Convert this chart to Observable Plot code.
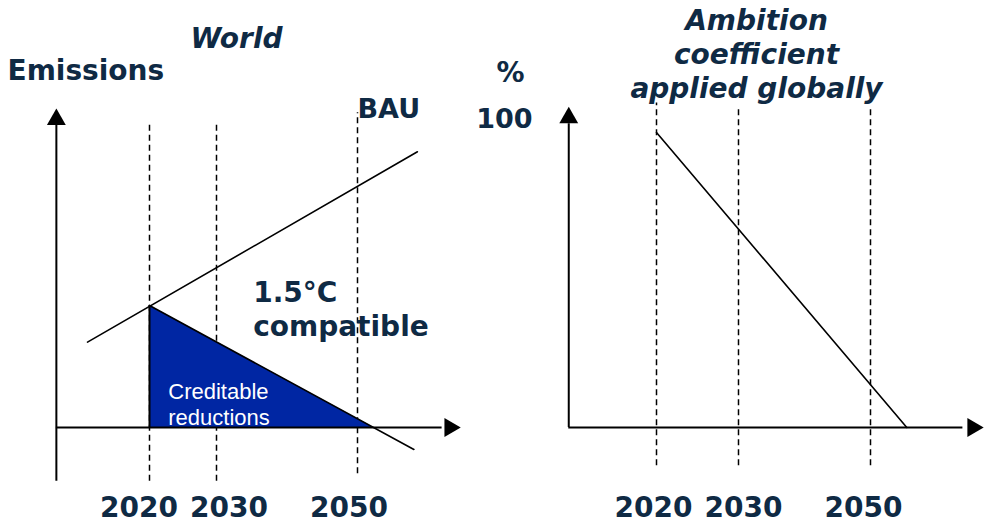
<!DOCTYPE html>
<html>
<head>
<meta charset="utf-8">
<script src="https://cdn.jsdelivr.net/npm/d3@7"></script>
<script src="https://cdn.jsdelivr.net/npm/@observablehq/plot@0.6"></script>
<style>
  html, body { margin: 0; padding: 0; background: #ffffff; }
  #wrap { display: flex; width: 986px; height: 524px; overflow: hidden; }
  #wrap svg { display: block; }
</style>
</head>
<body>
<div id="wrap"></div>
<script>
// ---------- data ----------
const tickYears = [2020, 2030, 2050];
const tickLabels = ["2020", "2030", "2050"];

// Left panel: World emissions (schematic units, 100 = 2020 level)
const bauYears = [2010.75, 2058.5];
const bauEmissions = [70, 226];
const pathYears = [2020, 2058];
const pathEmissions = [100, -18];
const creditYears = [2020, 2052.3];
const creditEmissions = [100, 0];
const leftGuideLow = [-44, -44, -38];
const leftGuideHigh = [251, 251, 258];
const leftAxisYears = [2006.1, 2062];      // x-axis extent
const leftAxisEmissions = [-44, 249];      // y-axis extent
const leftArrowYear = 2063.1;
const leftArrowEmission = 252.5;

// Right panel: ambition coefficient (%)
const ambitionYears = [2020, 2055.5];
const ambitionPct = [100, 0];
const rightGuideLow = [-13, -13, -13];
const rightGuideHigh = [110, 108.5, 108.5];
const rightAxisYears = [2009.3, 2064];
const rightAxisPct = [0, 103];
const rightArrowYear = 2065.5;
const rightArrowPct = 105;

// ---------- styles ----------
const navy = "#0f2a44";
const heavy = "DejaVu Sans";
const leftLabelShift = [-10.5, 12.5, -8.5];   // label nudges (px), as laid out in the reference
const rightLabelShift = [-3, 5, -7];

// ---------- helpers ----------
const toPts = (xs, ys) => xs.map((x, i) => ({x, y: ys[i]}));
const guides = (lo, hi) => tickYears.map((x, i) => ({x, lo: lo[i], hi: hi[i]}));
const tickMarks = (shift, dy) => tickYears.map((x, i) =>
  Plot.text([{x, label: tickLabels[i]}], {x: "x", text: "label", frameAnchor: "bottom", lineAnchor: "middle",
    dy, dx: shift[i], fontSize: 28, fontWeight: "bold", fill: navy}));

// ---------- left chart ----------
const left = Plot.plot({
  width: 465, height: 524, margin: 0,
  x: {type: "linear", domain: tickYears, range: [149, 216, 357], axis: null},
  y: {type: "linear", domain: [0, 100], range: [427, 305], axis: null},
  style: {background: "white", fontFamily: heavy},
  marks: [
    Plot.ruleX(guides(leftGuideLow, leftGuideHigh), {x: "x", y1: "lo", y2: "hi", stroke: "black", strokeWidth: 1.5, strokeDasharray: "6,4"}),
    Plot.areaY(toPts(creditYears, creditEmissions), {x: "x", y: "y", fill: "#0026a3"}),
    Plot.ruleX([creditYears[0]], {y1: creditEmissions[1], y2: creditEmissions[0], stroke: "black", strokeWidth: 2}),
    Plot.ruleY([0], {x1: leftAxisYears[0], x2: leftAxisYears[1], stroke: "black", strokeWidth: 2}),
    Plot.ruleX([leftAxisYears[0]], {y1: leftAxisEmissions[0], y2: leftAxisEmissions[1], stroke: "black", strokeWidth: 2}),
    Plot.dot([{x: leftAxisYears[0], y: leftArrowEmission}], {x: "x", y: "y", symbol: "triangle", r: 7, fill: "black"}),
    Plot.dot([{x: leftArrowYear, y: 0}], {x: "x", y: "y", symbol: "triangle", r: 7, fill: "black", rotate: 90}),
    Plot.line(toPts(bauYears, bauEmissions), {x: "x", y: "y", stroke: "black", strokeWidth: 1.6}),
    Plot.line(toPts(pathYears, pathEmissions), {x: "x", y: "y", stroke: "black", strokeWidth: 1.6}),
    Plot.text(["World"], {frameAnchor: "top-left", lineAnchor: "middle", dx: 236, dy: 39, textAnchor: "middle", fontSize: 28, fontWeight: "bold", fontStyle: "italic", fill: navy}),
    Plot.text(["Emissions"], {frameAnchor: "top-left", lineAnchor: "middle", dx: 7, dy: 71, textAnchor: "start", fontSize: 28, fontWeight: "bold", fill: navy}),
    Plot.text(["BAU"], {x: tickYears[2], y: 260.7, lineAnchor: "middle", dx: 0, textAnchor: "start", fontSize: 27, fontWeight: "bold", fill: navy}),
    Plot.text(["1.5°C\ncompatible"], {x: 2035.2, y: 97.5, lineAnchor: "middle", textAnchor: "start", lineHeight: 1.214, fontSize: 28, fontWeight: "bold", fill: navy}),
    Plot.text(["Creditable\nreductions"], {x: 2022.8, y: 19.7, lineAnchor: "middle", textAnchor: "start", lineHeight: 1.18, fontSize: 22, fontFamily: "Liberation Sans", fill: "white"}),
    ...tickMarks(leftLabelShift, -16)
  ]
});

// ---------- right chart ----------
const right = Plot.plot({
  width: 521, height: 524, margin: 0,
  x: {type: "linear", domain: tickYears, range: [191, 273, 405], axis: null},
  y: {type: "linear", domain: [0, 100], range: [427, 132], axis: null},
  style: {background: "white", fontFamily: heavy},
  marks: [
    Plot.ruleX(guides(rightGuideLow, rightGuideHigh), {x: "x", y1: "lo", y2: "hi", stroke: "black", strokeWidth: 1.5, strokeDasharray: "6,4"}),
    Plot.ruleY([0], {x1: rightAxisYears[0], x2: rightAxisYears[1], stroke: "black", strokeWidth: 2}),
    Plot.ruleX([rightAxisYears[0]], {y1: rightAxisPct[0], y2: rightAxisPct[1], stroke: "black", strokeWidth: 2}),
    Plot.dot([{x: rightAxisYears[0], y: rightArrowPct}], {x: "x", y: "y", symbol: "triangle", r: 7, fill: "black"}),
    Plot.dot([{x: rightArrowYear, y: 0}], {x: "x", y: "y", symbol: "triangle", r: 7, fill: "black", rotate: 90}),
    Plot.line(toPts(ambitionYears, ambitionPct), {x: "x", y: "y", stroke: "black", strokeWidth: 1.6}),
    Plot.text(["Ambition\ncoefficient\napplied globally"], {frameAnchor: "top-left", lineAnchor: "middle", dx: 291, dy: 52.5, textAnchor: "middle", lineHeight: 1.23, fontSize: 28, fontWeight: "bold", fontStyle: "italic", fill: navy}),
    Plot.text(["%"], {frameAnchor: "top-left", lineAnchor: "middle", dx: 31, dy: 73, textAnchor: "start", fontSize: 28, fontWeight: "bold", fill: navy}),
    Plot.text([100], {y: d => d, text: d => String(d), frameAnchor: "left", lineAnchor: "middle", dx: 67, dy: -13, textAnchor: "end", fontSize: 27, fontWeight: "bold", fill: navy}),
    ...tickMarks(rightLabelShift, -16)
  ]
});

const wrap = document.getElementById("wrap");
wrap.appendChild(left);
wrap.appendChild(right);
</script>
</body>
</html>
